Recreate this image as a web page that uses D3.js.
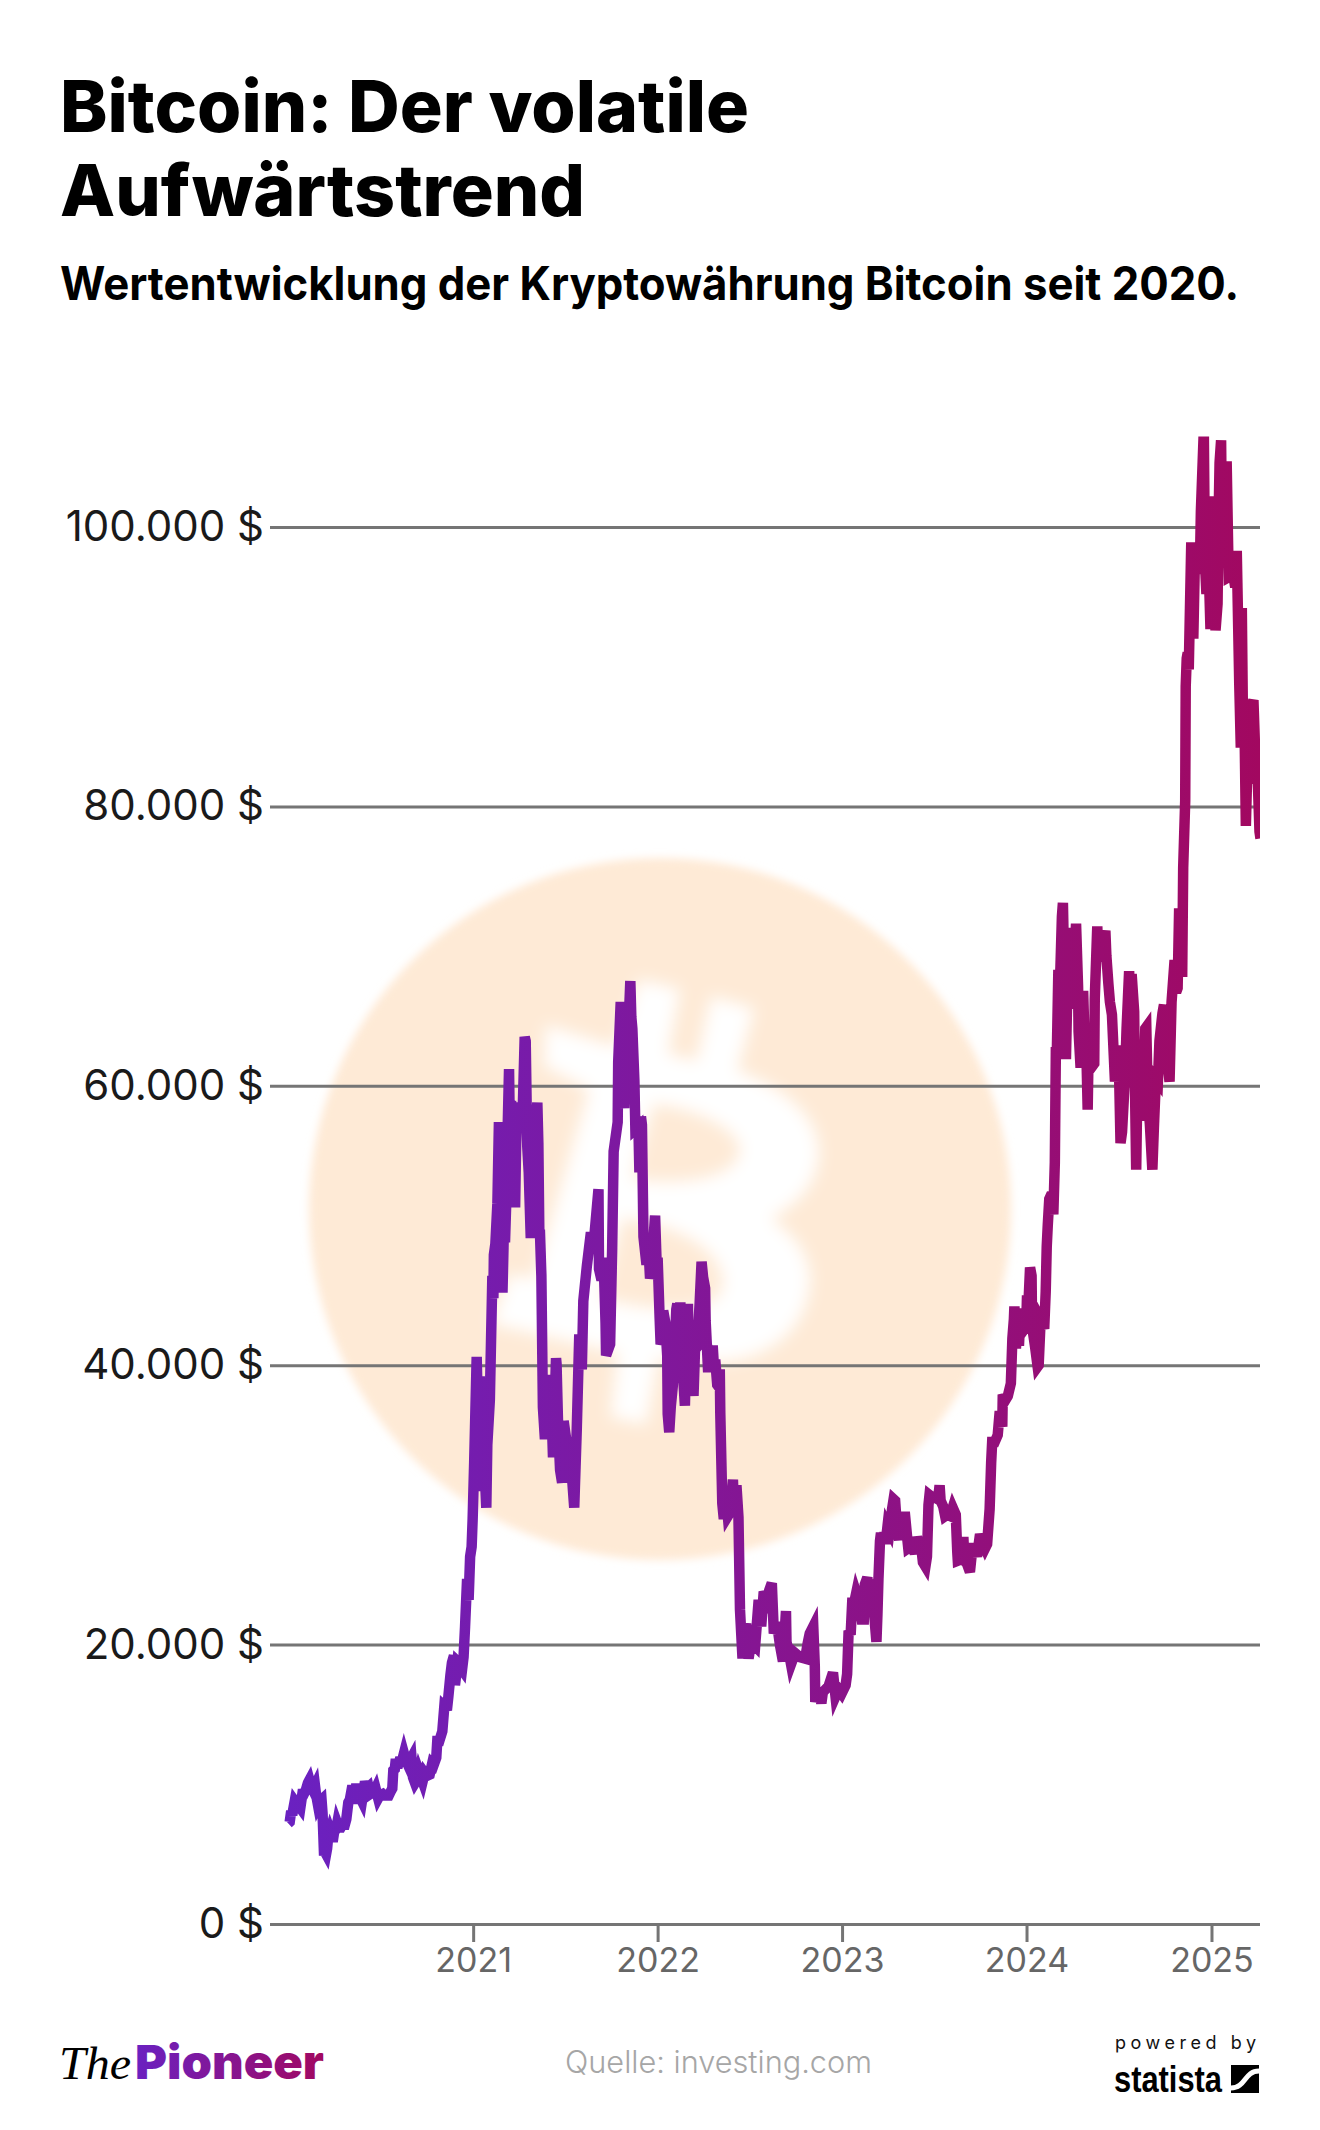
<!DOCTYPE html>
<html lang="de">
<head>
<meta charset="utf-8">
<title>Bitcoin: Der volatile Aufwärtstrend</title>
<script src="https://cdnjs.cloudflare.com/ajax/libs/d3/7.8.5/d3.min.js"></script>
<style>
  html, body { margin: 0; padding: 0; background: #fff; }
  svg { display: block; font-family: Inter, "Open Sans", sans-serif; }
</style>
</head>
<body>
<div id="chart"></div>
<script>
// Bitcoin-Kurs in US-Dollar, je Jahr ein Paar Listen
const dates2020 = ['01-01','01-04','01-07','01-09','01-14','01-16','01-19','01-23','01-25','01-29','02-01','02-05','02-09','02-12','02-15','02-19','02-23','02-25','02-29','03-04','03-07','03-09','03-12','03-13','03-16','03-18','03-20','03-24','03-27','03-29','04-01','04-05','04-07','04-10','04-14','04-17','04-22','04-25','04-29','05-02','05-07','05-09','05-11','05-14','05-18','05-22','05-26','05-29','06-01','06-05','06-08','06-11','06-15','06-18','06-22','06-27','06-30','07-06','07-09','07-15','07-18','07-22','07-25','07-27','07-30','08-01','08-04','08-10','08-12','08-17','08-20','08-25','08-29','09-01','09-04','09-08','09-13','09-16','09-23','09-27','10-01','10-07','10-12','10-15','10-20','10-22','10-26','11-01','11-05','11-08','11-10','11-13','11-17','11-20','11-24','11-26','11-28','12-01','12-04','12-08','12-10','12-13','12-16','12-20','12-23','12-26','12-29','12-31'];
const prices2020 = [7200,7300,8100,7800,8800,8700,8700,8400,8300,9300,9300,9600,10100,10300,9900,9600,9900,9300,8500,8800,8900,7900,4900,5200,5000,5400,6200,6700,6400,5900,6600,6800,7200,6900,6900,7100,7100,7500,8700,8900,9900,9600,8600,9700,9700,9100,8800,9500,10200,9700,9800,9300,9400,9400,9700,9000,9200,9300,9200,9200,9200,9500,9700,11000,11100,11800,11200,11900,11500,12200,11800,11400,11700,11900,10500,10100,10400,10900,10200,10800,10600,10700,11500,11400,11900,13100,13100,13800,15600,15500,15300,16300,17800,18700,19200,17100,17700,18800,18700,18300,18200,19100,21300,24700,23200,26300,27000,29000];

const dates2021 = ['01-03','01-08','01-11','01-13','01-14','01-21','01-24','01-27','01-29','02-03','02-08','02-10','02-11','02-14','02-18','02-21','02-22','02-23','02-25','02-28','03-02','03-03','03-05','03-08','03-09','03-13','03-15','03-17','03-19','03-22','03-25','03-27','03-30','04-03','04-06','04-09','04-13','04-15','04-18','04-21','04-25','04-27','05-01','05-03','05-05','05-08','05-10','05-12','05-13','05-16','05-19','05-23','05-26','05-28','06-01','06-03','06-08','06-14','06-15','06-18','06-22','06-26','06-29','07-06','07-14','07-20','07-25','07-30','08-04','08-07','08-14','08-22','08-28','09-06','09-07','09-12','09-16','09-20','09-21','09-29','10-03','10-06','10-14','10-15','10-20','10-23','10-27','10-29','11-03','11-08','11-10','11-12','11-16','11-18','11-24','11-26','11-29','12-01','12-04','12-10','12-14','12-17','12-20','12-27','12-31'];
const prices2021 = [33000,40600,35500,37400,39200,31000,32300,29800,34300,37500,46400,44800,47900,48700,51600,57400,54100,48900,47000,45200,48400,50300,48800,52300,54900,61200,55600,58900,58000,54100,51300,55800,58800,57100,58100,58100,63500,63200,55700,53800,49100,54900,57800,57200,57400,58800,55900,49200,49700,46400,37000,34700,39300,35700,36700,39200,33400,40500,40100,35800,32500,31600,36000,34200,32800,29800,35400,42200,39700,44600,47100,49500,48900,52600,46900,46100,47700,43000,40700,41500,48200,55300,57400,61700,66000,61000,58400,62300,62900,67500,64900,64100,60400,56900,57100,53800,57800,57200,49200,47200,48400,46200,46900,50700,46200];

const dates2022 = ['01-01','01-05','01-07','01-10','01-12','01-16','01-20','01-21','01-24','01-27','01-31','02-04','02-07','02-09','02-10','02-13','02-15','02-17','02-19','02-24','02-28','03-02','03-04','03-07','03-10','03-13','03-16','03-20','03-22','03-25','03-29','04-01','04-05','04-06','04-11','04-13','04-18','04-20','04-23','04-25','04-29','05-01','05-04','05-05','05-09','05-12','05-15','05-20','05-25','05-30','06-01','06-06','06-10','06-13','06-18','06-19','06-25','06-30','07-05','07-13','07-20','07-25','07-30','08-05','08-10','08-15','08-19','08-25','08-31','09-06','09-12','09-13','09-18','09-22','09-30','10-10','10-20','10-25','10-29','11-05','11-08','11-09','11-15','11-21','11-24','12-05','12-14','12-19','12-25','12-31'];
const prices2022 = [47700,43400,41500,41800,43900,43100,40700,36500,35200,37000,38500,41500,44000,44400,43600,42200,44500,40600,40100,37100,43200,44400,39100,38100,39400,37800,41100,41300,42400,44300,47400,46300,45500,43200,39500,41100,40800,41400,39500,40400,38600,38500,39700,36600,30100,29000,31300,29200,29500,31800,29800,31400,29100,22500,19000,20600,21500,19000,20200,19900,23200,21300,23800,23300,23900,24400,20800,21600,20000,18800,22400,20200,19400,18600,19400,19100,19000,20100,20800,21300,18500,15900,16900,15800,16600,17000,18000,16300,16800,16500];

const dates2023 = ['01-08','01-11','01-14','01-18','01-21','01-25','01-29','02-05','02-09','02-13','02-15','02-20','02-24','03-01','03-05','03-10','03-12','03-14','03-17','03-19','03-22','03-26','03-28','04-01','04-05','04-10','04-13','04-16','04-20','04-24','04-28','05-01','05-05','05-10','05-12','05-20','05-25','05-29','06-02','06-06','06-10','06-15','06-18','06-21','06-23','06-30','07-05','07-10','07-13','07-15','07-20','07-24','07-28','08-03','08-08','08-14','08-17','08-18','08-25','08-29','08-31','09-05','09-11','09-15','09-19','09-25','10-01','10-05','10-11','10-15','10-20','10-23','10-25','10-30','11-05','11-09','11-14','11-15','11-20','11-25','12-01','12-04','12-07','12-08','12-11','12-14','12-17','12-20','12-23','12-26','12-28','12-31'];
const prices2023 = [17100,17900,21000,20700,23000,23000,23700,22900,21800,21800,24300,24800,23200,23600,22400,20200,22200,24700,27400,28000,27300,28000,27200,28500,28200,29700,30400,30300,28200,27500,29300,28100,29500,27600,26900,27100,26500,27700,27200,27200,25900,25600,26300,30000,30700,30500,30500,30400,31400,30300,29900,29200,29300,29200,29800,29300,26600,26000,26100,27700,26000,25800,25200,26600,27200,26300,27900,27400,26900,27200,29700,33000,34500,34500,35000,36700,35600,37900,37500,37800,38700,41900,43300,44200,41200,43000,41400,43700,43700,42500,42600,42300];

const dates2024 = ['01-02','01-03','01-08','01-11','01-12','01-18','01-23','01-25','01-29','02-01','02-05','02-08','02-10','02-12','02-15','02-20','02-23','02-26','02-28','03-01','03-04','03-05','03-08','03-11','03-13','03-15','03-19','03-21','03-25','03-27','03-28','04-01','04-02','04-04','04-08','04-12','04-13','04-17','04-20','04-22','04-24','04-28','05-01','05-03','05-06','05-12','05-14','05-15','05-20','05-22','05-27','06-05','06-07','06-11','06-14','06-18','06-24','06-27','07-01','07-05','07-08','07-14','07-17','07-22','07-24','07-27','08-01','08-02','08-05','08-08','08-12','08-15','08-19','08-23','08-25','08-28','09-01','09-06','09-09','09-13','09-17','09-20','09-26','09-29','10-01','10-05','10-10','10-14','10-20','10-23','10-26','10-29','11-03','11-04','11-06','11-10','11-11','11-13','11-15','11-17','11-22','11-26','11-29','12-04','12-05','12-09','12-11','12-16','12-17','12-19','12-22','12-25','12-30'];
const prices2024 = [45000,42900,47000,46400,42800,41300,39900,40000,43300,43100,42600,45300,48500,50000,51900,52300,50800,54500,62400,62400,68300,63800,68300,72100,73100,69400,61900,65500,69900,69500,71300,69700,65500,68500,71600,67100,63900,61300,64900,66800,64300,63100,58300,62900,63200,61500,61600,66200,71400,69200,69400,71100,69300,67300,66000,65100,60300,61700,62900,55900,56700,60800,64100,68200,65900,68000,65300,61400,54000,61700,59300,57500,59400,64100,64200,59000,57300,54000,57000,60500,60300,63200,65200,65800,61600,62100,60300,66000,69000,66700,67000,72700,68800,67800,75600,80400,88600,90600,91000,89800,98900,92000,97400,98700,97000,97000,101100,106100,106100,97500,95200,99000,92700];

const dates2025 = ['01-01','01-06','01-09','01-13','01-15','01-17','01-20','01-21','01-23','01-27','01-31','02-04','02-09','02-13','02-17','02-20','02-25','02-28','03-02','03-04','03-07','03-10','03-14','03-19','03-24','03-25','03-28','03-30','04-02','04-06','04-08'];
const prices2025 = [94400,102200,92600,94500,100500,104600,106200,102400,104000,102000,104700,96400,96500,96600,95700,98300,88700,84200,94200,87200,86800,78600,84300,86800,87500,87600,84400,82400,82500,78200,77700];

const years = [2020, 2021, 2022, 2023, 2024, 2025];
const yearDates = [dates2020, dates2021, dates2022, dates2023, dates2024, dates2025];
const yearPrices = [prices2020, prices2021, prices2022, prices2023, prices2024, prices2025];

const yTicks = [0, 20000, 40000, 60000, 80000, 100000];
const xTickYears = [2021, 2022, 2023, 2024, 2025];

const W = 1320, H = 2130;
const parseDate = d3.timeParse('%Y-%m-%d');

const series = years.flatMap((y, i) => yearDates[i].map((d, j) => ({
  date: parseDate(`${y}-${d}`),
  price: yearPrices[i][j]
})));

const x = d3.scaleTime()
  .domain([parseDate('2019-11-26'), parseDate('2025-04-07')])
  .range([270, 1260]);

const y = d3.scaleLinear()
  .domain([0, 100000])
  .range([1924, 527]);

const de = d3.formatLocale({ decimal: ',', thousands: '.', grouping: [3], currency: ['', ' $'] });

const svg = d3.select('#chart')
  .append('svg')
  .attr('width', W)
  .attr('height', H)
  .attr('viewBox', `0 0 ${W} ${H}`);

const defs = svg.append('defs');

const lineGrad = defs.append('linearGradient')
  .attr('id', 'lineGrad')
  .attr('gradientUnits', 'userSpaceOnUse')
  .attr('x1', 285).attr('x2', 1260).attr('y1', 0).attr('y2', 0);
lineGrad.append('stop').attr('offset', 0).attr('stop-color', '#6a21c1');
lineGrad.append('stop').attr('offset', 1).attr('stop-color', '#a20860');

const logoGrad = defs.append('linearGradient')
  .attr('id', 'logoGrad')
  .attr('gradientUnits', 'userSpaceOnUse')
  .attr('x1', 135).attr('x2', 324).attr('y1', 0).attr('y2', 0);
logoGrad.append('stop').attr('offset', 0).attr('stop-color', '#6a21c1');
logoGrad.append('stop').attr('offset', 1).attr('stop-color', '#a20860');

defs.append('filter')
  .attr('id', 'soft')
  .attr('x', '-10%').attr('y', '-10%').attr('width', '120%').attr('height', '120%')
  .append('feGaussianBlur')
  .attr('stdDeviation', 4);

defs.append('filter')
  .attr('id', 'softer')
  .attr('x', '-10%').attr('y', '-10%').attr('width', '120%').attr('height', '120%')
  .append('feGaussianBlur')
  .attr('stdDeviation', 17);

defs.append('clipPath')
  .attr('id', 'plotClip')
  .append('rect')
  .attr('x', 270).attr('y', 400).attr('width', 990).attr('height', 1540);

// Titel
const addText = (str, px, py, size, weight, fill, len) => {
  const t = svg.append('text')
    .attr('x', px)
    .attr('y', py)
    .attr('font-size', size)
    .attr('font-weight', weight)
    .attr('fill', fill)
    .text(str);
  if (len) t.attr('textLength', len).attr('lengthAdjust', 'spacingAndGlyphs');
  return t;
};

addText('Bitcoin: Der volatile', 60, 132, 72, 800, '#000', 689);
addText('Aufwärtstrend', 60, 216, 72, 800, '#000', 525);
addText('Wertentwicklung der Kryptowährung Bitcoin seit 2020.', 60, 300, 46, 700, '#000', 1179);

// Bitcoin-Logo im Hintergrund
svg.append('circle')
  .attr('cx', 660).attr('cy', 1209).attr('r', 351)
  .attr('fill', '#feead6')
  .attr('filter', 'url(#soft)');

const coin = svg.append('g')
  .attr('filter', 'url(#softer)')
  .attr('transform', 'translate(290,836) scale(0.4785)');

coin.append('path')
  .attr('fill', '#fff')
  .attr('fill-rule', 'evenodd')
  .attr('d', 'M535,395 L680,440 L730,300 L815,320 L790,455 L850,470 L880,335 L970,360 L935,490 ' +
    'C1040,530 1110,590 1105,670 C1100,730 1060,770 1005,800 C1065,840 1095,890 1085,950 ' +
    'C1070,1040 1000,1090 900,1100 L770,1090 L745,1230 L670,1215 L685,1080 L420,1020 L460,915 ' +
    'L510,925 L625,530 L530,480 Z ' +
    'M760,560 C850,570 930,610 940,650 C945,710 830,735 715,715 Z ' +
    'M695,800 C800,810 900,860 905,930 C905,1000 780,1000 650,965 Z');

// Raster und Achsen
const yAxis = d3.axisLeft(y)
  .tickValues(yTicks)
  .tickSize(-990)
  .tickPadding(6)
  .tickFormat(d => `${de.format(',.0f')(d)} $`);

const yG = svg.append('g')
  .attr('transform', 'translate(270,0)')
  .call(yAxis);
yG.select('.domain').remove();
yG.selectAll('line').attr('stroke', '#757575').attr('stroke-width', 3);
yG.selectAll('text')
  .attr('font-family', 'Inter, sans-serif')
  .attr('font-size', 42)
  .attr('font-weight', 400)
  .attr('fill', '#1a1a1a');

const xAxis = d3.axisBottom(x)
  .tickValues(xTickYears.map(d => parseDate(`${d}-01-01`)))
  .tickSize(18)
  .tickPadding(6)
  .tickFormat(d3.timeFormat('%Y'));

const xG = svg.append('g')
  .attr('transform', 'translate(0,1924)')
  .call(xAxis);
xG.select('.domain').remove();
xG.selectAll('line').attr('stroke', '#757575').attr('stroke-width', 3);
xG.selectAll('text')
  .attr('font-family', 'Inter, sans-serif')
  .attr('font-size', 34)
  .attr('font-weight', 400)
  .attr('fill', '#666');

// Kurslinie
const line = d3.line()
  .x(d => x(d.date))
  .y(d => y(d.price));

svg.append('path')
  .datum(series)
  .attr('clip-path', 'url(#plotClip)')
  .attr('fill', 'none')
  .attr('stroke', 'url(#lineGrad)')
  .attr('stroke-width', 10.5)
  .attr('d', line);

// Fusszeile
svg.append('text')
  .attr('x', 59).attr('y', 2079)
  .attr('font-family', '"Liberation Serif", serif')
  .attr('font-style', 'italic')
  .attr('font-size', 47)
  .attr('fill', '#000')
  .attr('textLength', 72)
  .attr('lengthAdjust', 'spacingAndGlyphs')
  .text('The');

svg.append('text')
  .attr('x', 135).attr('y', 2079)
  .attr('font-size', 47)
  .attr('font-weight', 900)
  .attr('fill', 'url(#logoGrad)')
  .attr('textLength', 189)
  .attr('lengthAdjust', 'spacingAndGlyphs')
  .text('Pioneer');

addText('Quelle: investing.com', 565, 2073, 31, 300, '#a6a6a6', 307);

addText('powered by', 1115, 2049, 18, 400, '#111', 141)
  .attr('lengthAdjust', 'spacing');

svg.append('text')
  .attr('x', 1114).attr('y', 2092)
  .attr('font-family', '"Liberation Sans Narrow", "Liberation Sans", sans-serif')
  .attr('font-size', 37)
  .attr('font-weight', 700)
  .attr('fill', '#000')
  .attr('textLength', 108)
  .attr('lengthAdjust', 'spacingAndGlyphs')
  .text('statista');

svg.append('rect')
  .attr('x', 1231).attr('y', 2065).attr('width', 28).attr('height', 28)
  .attr('fill', '#000');

svg.append('path')
  .attr('fill', 'none')
  .attr('stroke', '#fff')
  .attr('stroke-width', 5)
  .attr('d', 'M1231,2088 C1246,2088 1244,2071 1259,2071');
</script>
</body>
</html>
